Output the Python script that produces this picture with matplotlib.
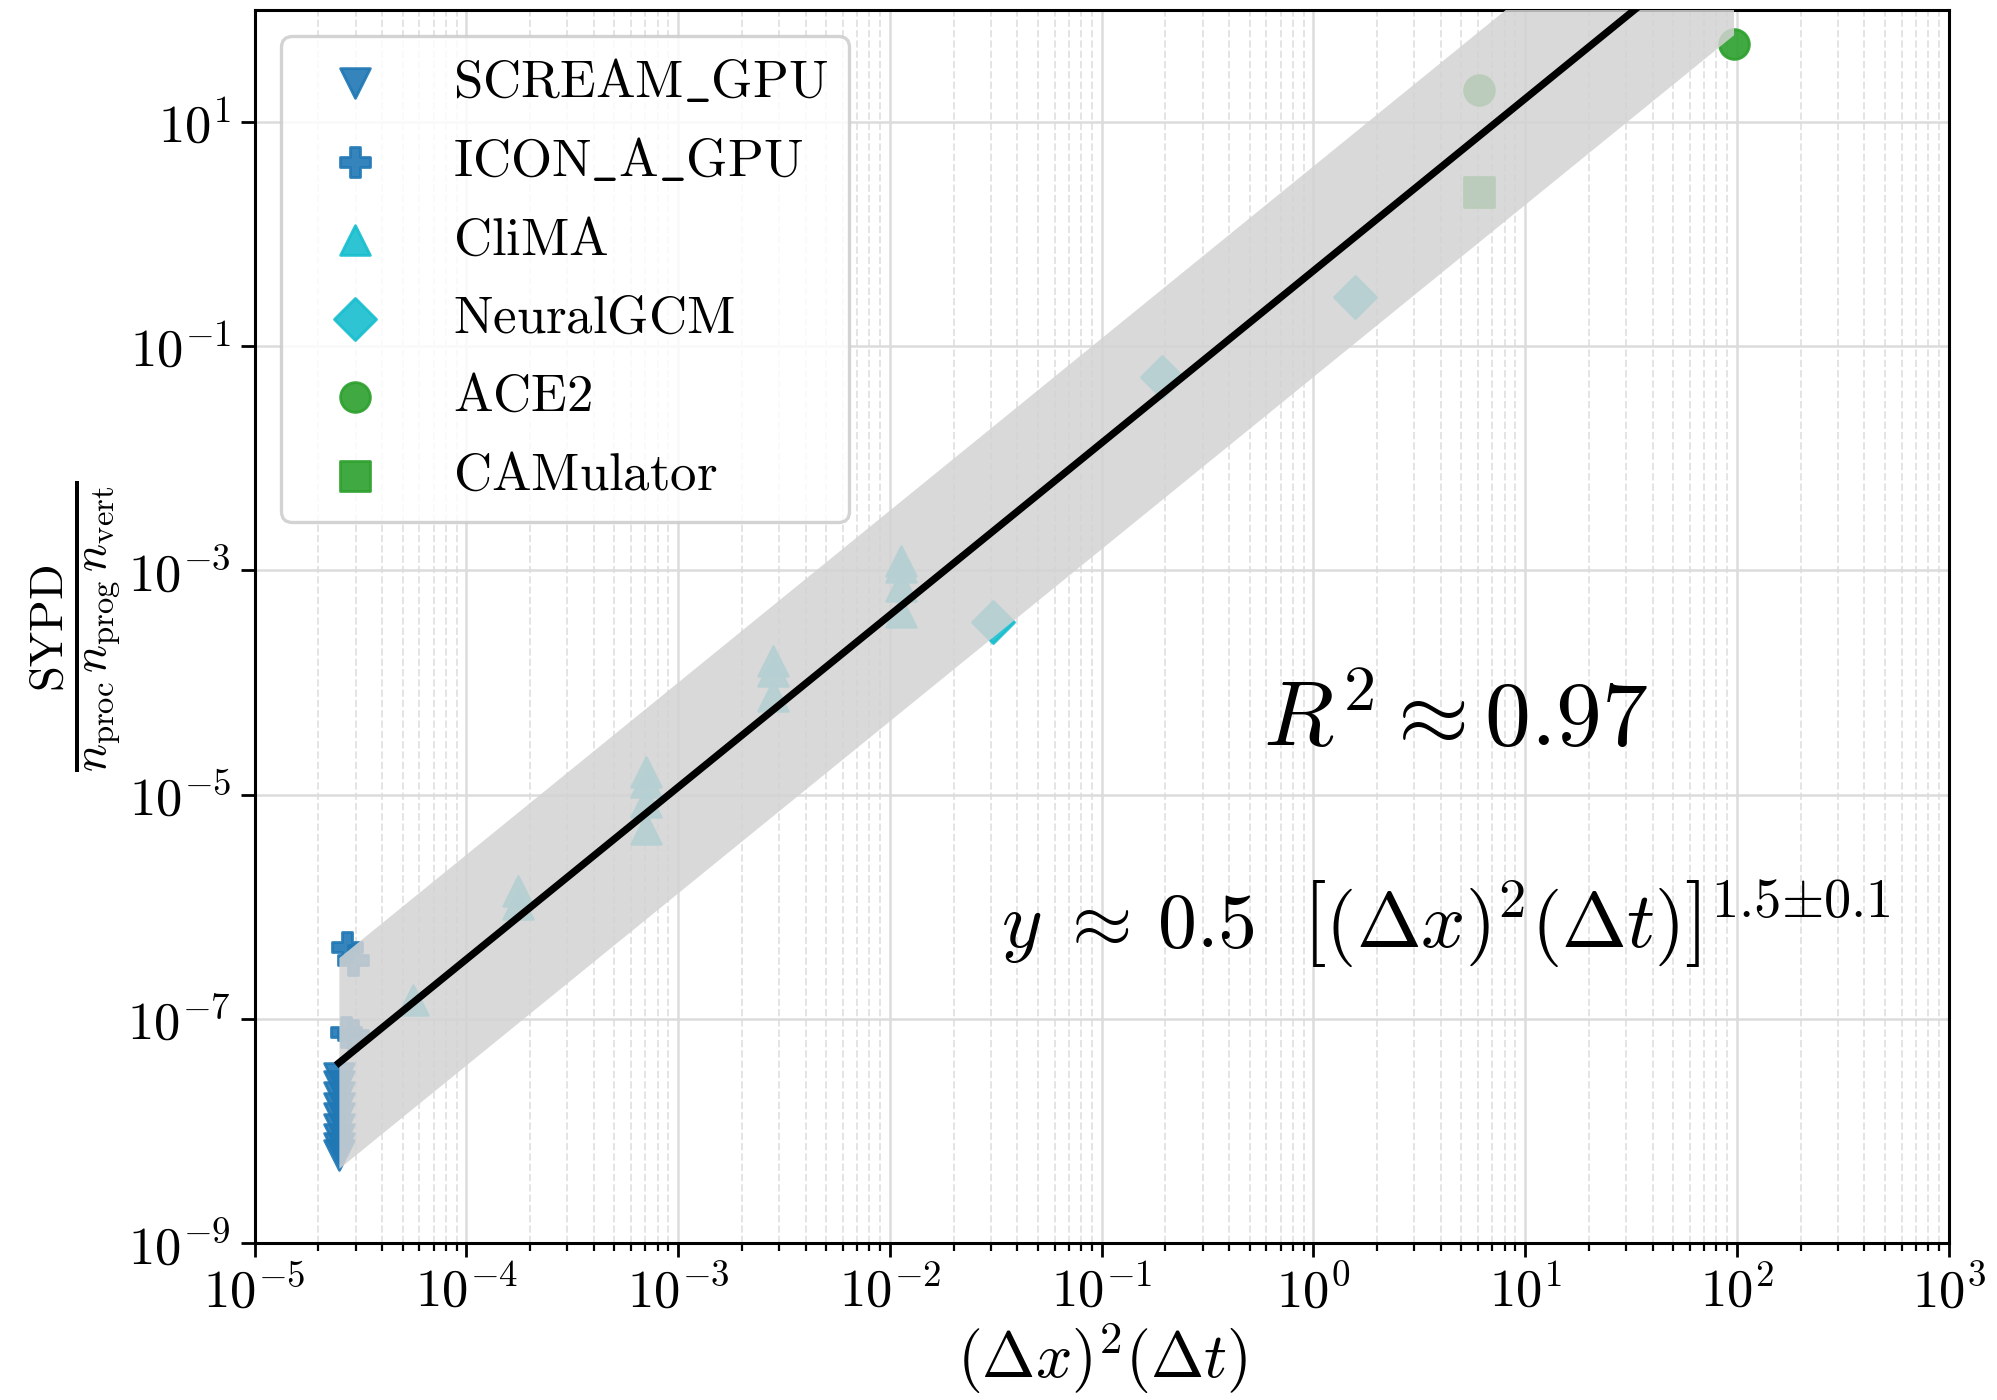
import numpy as np
import matplotlib
matplotlib.use("Agg")
import matplotlib.pyplot as plt
from matplotlib import ticker

plt.rcParams['mathtext.fontset'] = 'cm'
plt.rcParams['font.family'] = 'serif'
plt.rcParams['font.serif'] = ['DejaVu Serif']

# data: x = (dx)^2 (dt), y = SYPD / (n_proc n_prog n_vert)
scream_x = [2.5e-5] * 9
scream_y = [3.0e-8, 2.5e-8, 2.0e-8, 1.6e-8, 1.3e-8, 1.05e-8, 8.5e-9, 7.0e-9, 6.1e-9]

icon_x = [2.73e-5, 2.91e-5, 2.7e-5, 2.9e-5]
icon_y = [4.4e-7, 3.35e-7, 7.6e-8, 7.2e-8]

clima_x = [5.57e-5, 1.76e-4, 1.76e-4,
           7.03e-4, 7.03e-4, 7.03e-4, 7.03e-4,
           2.80e-3, 2.80e-3, 2.80e-3,
           1.127e-2, 1.127e-2, 1.127e-2, 1.127e-2]
clima_y = [1.47e-7, 1.38e-6, 1.06e-6,
           1.59e-5, 1.29e-5, 8.6e-6, 4.9e-6,
           1.56e-4, 1.27e-4, 7.6e-5,
           1.21e-3, 1.07e-3, 7.3e-4, 4.3e-4]

neuralgcm_x = [0.0308, 0.192, 1.57]
neuralgcm_y = [3.48e-4, 0.0535, 0.276]

ace2_x = [6.07, 96.4]
ace2_y = [19.3, 49.7]

camulator_x = [6.07]
camulator_y = [2.39]

# fitted power law y = a * x^b and its band (decades above/below)
fit_a = 0.47
fit_b = 1.535
band_decades = 0.94

r2_text = r'$R^2 \approx 0.97$'
fit_text = r'$y \;\approx\, 0.5\ \ \left[(\Delta x)^2(\Delta t)\right]^{1.5{\pm}0.1}$'

fig = plt.figure(figsize=(9.985, 7.0), dpi=200)
ax = fig.add_axes([0.1275, 0.112, 0.8483, 0.881])

ms = 115
ax.scatter(scream_x, scream_y, s=ms, marker='v', color='tab:blue', alpha=0.9,
           label=r'$\mathrm{SCREAM\_GPU}$', zorder=2)
ax.scatter(icon_x, icon_y, s=ms, marker='P', color='tab:blue', alpha=0.9,
           label=r'$\mathrm{ICON\_A\_GPU}$', zorder=2)
ax.scatter(clima_x, clima_y, s=ms, marker='^', color='tab:cyan', alpha=0.9,
           label=r'$\mathrm{CliMA}$', zorder=2)
ax.scatter(neuralgcm_x, neuralgcm_y, s=ms, marker='D', color='tab:cyan', alpha=0.9,
           label=r'$\mathrm{NeuralGCM}$', zorder=2)
ax.scatter(ace2_x, ace2_y, s=ms, marker='o', color='tab:green', alpha=0.9,
           label=r'$\mathrm{ACE2}$', zorder=2)
ax.scatter(camulator_x, camulator_y, s=ms, marker='s', color='tab:green', alpha=0.9,
           label=r'$\mathrm{CAMulator}$', zorder=2)

# fit line + band over the data range
all_x = np.concatenate([scream_x, icon_x, clima_x, neuralgcm_x, ace2_x, camulator_x])
xf = np.logspace(np.log10(all_x.min()), np.log10(all_x.max()), 200)
yf = fit_a * xf ** fit_b
ax.fill_between(xf, yf * 10 ** -band_decades, yf * 10 ** band_decades,
                color='lightgray', alpha=0.85, lw=0, zorder=3)
ax.plot(xf, yf, color='black', lw=2.6, zorder=4)

ax.set_xscale('log')
ax.set_yscale('log')
ax.set_xlim(1e-5, 1e3)
ax.set_ylim(1e-9, 1e2)

ax.xaxis.set_major_locator(ticker.LogLocator(base=10, numticks=20))
ax.xaxis.set_minor_locator(ticker.LogLocator(base=10, subs=np.arange(2, 10), numticks=100))
ax.xaxis.set_minor_formatter(ticker.NullFormatter())
ax.set_yticks(10.0 ** np.arange(-9, 2, 2))
ax.yaxis.set_minor_locator(ticker.NullLocator())

exp_fmt = ticker.FuncFormatter(lambda v, p: r'$10^{%d}$' % int(round(np.log10(v))))
ax.xaxis.set_major_formatter(exp_fmt)
ax.yaxis.set_major_formatter(exp_fmt)
ax.tick_params(axis='both', which='major', labelsize=19, length=5, width=1)
ax.tick_params(axis='x', which='minor', length=3, width=0.8)

ax.grid(which='major', color='#dcdcdc', lw=0.9)
ax.grid(which='minor', axis='x', color='#e4e4e4', lw=0.7, ls='--')

for sp in ax.spines.values():
    sp.set_linewidth(1.1)

ax.set_xlabel(r'$(\Delta x)^2 (\Delta t)$', fontsize=23, labelpad=1)
ax.set_ylabel(r'$\frac{\mathrm{SYPD}}{n_{\mathrm{proc}}\, n_{\mathrm{prog}}\, n_{\mathrm{vert}}}$',
              fontsize=24, labelpad=2)

ax.text(0.709, 0.424, r2_text, transform=ax.transAxes, fontsize=33,
        ha='center', va='center', zorder=6)
ax.text(0.4405, 0.258, fit_text, transform=ax.transAxes, fontsize=28,
        ha='left', va='center', zorder=6)

leg = ax.legend(loc='upper left', fontsize=19, labelspacing=0.52, handletextpad=0.85,
                borderpad=0.4, framealpha=0.85, edgecolor='#cccccc')
leg.get_frame().set_linewidth(1.2)

fig.savefig('out.png', dpi=200)
